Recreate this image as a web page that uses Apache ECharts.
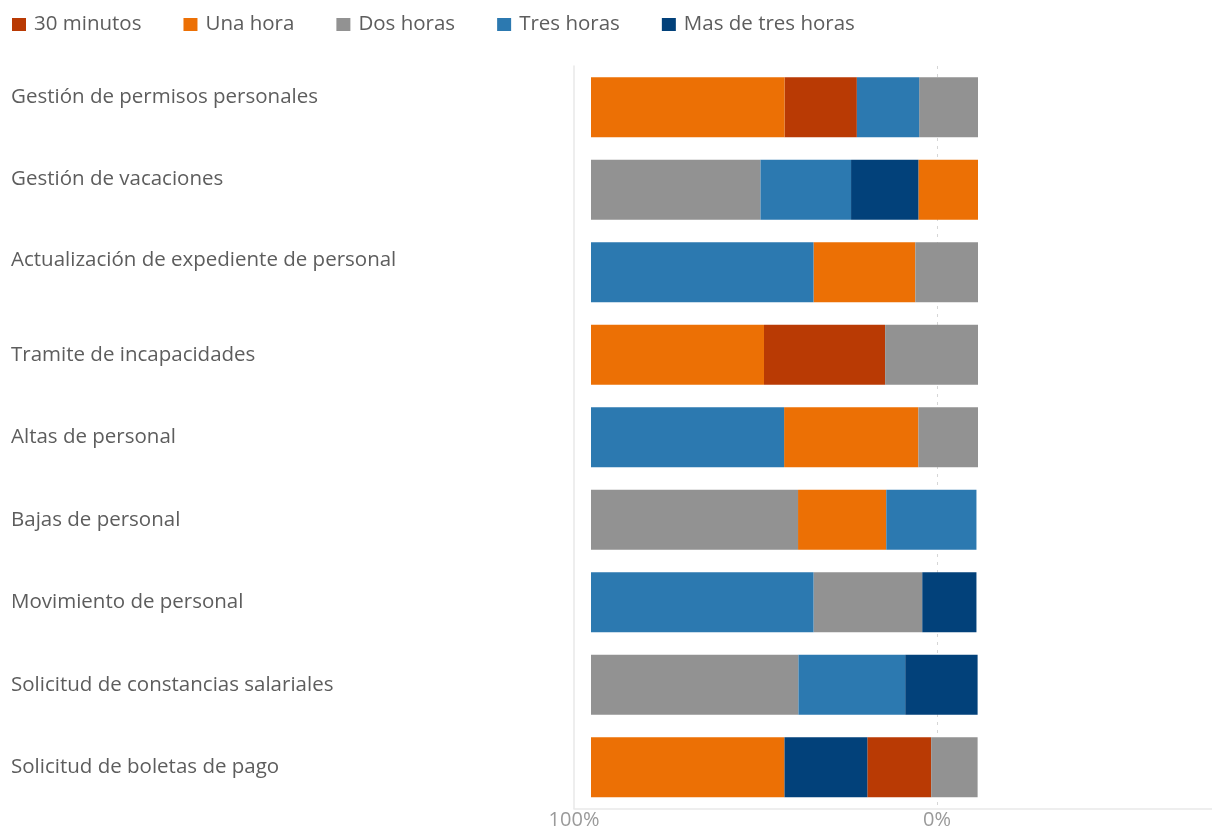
<!DOCTYPE html>
<html lang="es">
<head>
<meta charset="utf-8">
<title>Tiempo por trámite</title>
<script src="https://cdn.jsdelivr.net/npm/echarts@6/dist/echarts.min.js"></script>
<style>
  html, body { margin: 0; padding: 0; background: #ffffff; }
  #chart { width: 1212px; height: 827px; }
</style>
</head>
<body>
<div id="chart"></div>
<script>
// Trámites (top to bottom)
const categories = [
  'Gestión de permisos personales',
  'Gestión de vacaciones',
  'Actualización de expediente de personal',
  'Tramite de incapacidades',
  'Altas de personal',
  'Bajas de personal',
  'Movimiento de personal',
  'Solicitud de constancias salariales',
  'Solicitud de boletas de pago'
];

// Share of answers (%) per time band, one value per trámite
const treintaMinutos = [18.7, null, null, 31.3, null, null, null, null, 16.5];
const unaHora        = [50.0, 15.4, 26.3, 44.7, 34.7, 22.8, null, null, 50.0];
const dosHoras       = [15.2, 43.8, 16.2, 24.0, 15.4, 53.5, 28.1, 53.6, 12.0];
const tresHoras      = [16.1, 23.4, 57.5, null, 49.9, 23.3, 57.5, 27.6, null];
const masDeTres      = [null, 17.4, null, null, null, null, 14.0, 18.7, 21.4];

const seriesNames = ['30 minutos', 'Una hora', 'Dos horas', 'Tres horas', 'Mas de tres horas'];

// Left-to-right order of the bands inside each bar (indices into seriesNames)
const segmentOrder = [
  [1, 0, 3, 2],
  [2, 3, 4, 1],
  [3, 1, 2],
  [1, 0, 2],
  [3, 1, 2],
  [2, 1, 3],
  [3, 2, 4],
  [2, 3, 4],
  [1, 4, 0, 2]
];

// Axis tick labels
const axisTicks = [0, 100];

// ---- chart construction ----
const bandValues = [treintaMinutos, unaHora, dosHoras, tresHoras, masDeTres];
const bandColors = ['#B93A04', '#EC7005', '#929292', '#2C79B0', '#02417A'];

// start/end of each segment along the 100% axis, stacked from the 100% side
const segments = bandValues.map(() => []);
segmentOrder.forEach((order, row) => {
  let used = 0;
  order.forEach((s) => {
    const v = bandValues[s][row];
    if (v == null) return;
    segments[s].push([row, 100 - used, 100 - used - v]);
    used += v;
  });
});

const barRatio = 60 / 82.5;
function renderSegment(params, api) {
  const row = api.value(0);
  const a = api.coord([api.value(1), row]);
  const b = api.coord([api.value(2), row]);
  const h = api.size([0, 1])[1] * barRatio;
  return {
    type: 'rect',
    shape: {
      x: Math.min(a[0], b[0]),
      y: a[1] - h / 2,
      width: Math.abs(b[0] - a[0]),
      height: h
    },
    style: api.style()
  };
}

// first three labels sit slightly higher than their bars
const labelLift = [10, 11, 12, 0, 0, 0, 0, 0, 0];
const liftStyles = {};
labelLift.forEach((lift, i) => {
  if (lift) liftStyles['l' + i] = { padding: [0, 0, lift * 2, 0] };
});

const font = "'Open Sans', 'Noto Sans', sans-serif";
const textColor = '#5d5d5d';
const plotTop = 66;
const plotHeight = 742.5;
const gridBase = { top: plotTop, height: plotHeight, containLabel: false, outerBoundsMode: 'none' };

const option = {
  backgroundColor: '#ffffff',
  animation: false,
  legend: {
    left: 7,
    top: 9,
    itemWidth: 14,
    itemHeight: 13,
    itemGap: 42,
    icon: 'rect',
    data: seriesNames,
    textStyle: {
      fontFamily: font,
      fontSize: 20.5,
      color: textColor,
      padding: [0, 0, 0, 3]
    }
  },
  grid: [
    // bars
    Object.assign({ left: 591, width: 387 }, gridBase),
    // frame lines
    Object.assign({ left: 574, right: 0 }, gridBase),
    // percentage scale
    Object.assign({ left: 574, width: 363 }, gridBase)
  ],
  xAxis: [
    {
      gridIndex: 0, type: 'value', min: 0, max: 100, inverse: true,
      axisLine: { show: false }, axisTick: { show: false },
      axisLabel: { show: false }, splitLine: { show: false }
    },
    {
      gridIndex: 1, type: 'value', min: 0, max: 100,
      axisLine: { show: true, lineStyle: { color: '#e9e9e9', width: 1.5 } },
      axisTick: { show: false }, axisLabel: { show: false }, splitLine: { show: false }
    },
    {
      gridIndex: 2, type: 'value', min: axisTicks[0], max: axisTicks[1],
      interval: axisTicks[1] - axisTicks[0], inverse: true,
      axisLine: { show: false }, axisTick: { show: false },
      axisLabel: {
        formatter: '{value}%',
        fontFamily: font, fontSize: 20, color: '#9a9a9a', margin: 2
      },
      splitLine: {
        show: true, showMaxLine: false,
        lineStyle: { color: '#d6d6d6', type: [3, 5], width: 1 }
      }
    }
  ],
  yAxis: [
    {
      gridIndex: 0, type: 'category', inverse: true, data: categories,
      axisLine: { show: false }, axisTick: { show: false },
      axisLabel: {
        align: 'left', margin: 591 - 11,
        fontFamily: font, fontSize: 20.5, color: textColor,
        formatter: (value, index) => (labelLift[index] ? '{l' + index + '|' + value + '}' : value),
        rich: liftStyles
      }
    },
    {
      gridIndex: 1, type: 'value', min: 0, max: 1,
      axisLine: { show: true, lineStyle: { color: '#e9e9e9', width: 1.5 } },
      axisTick: { show: false }, axisLabel: { show: false }, splitLine: { show: false }
    },
    {
      gridIndex: 2, type: 'value', min: 0, max: 1, show: false
    }
  ],
  series: seriesNames.map((name, i) => ({
    name,
    type: 'custom',
    xAxisIndex: 0,
    yAxisIndex: 0,
    renderItem: renderSegment,
    encode: { x: [1, 2], y: 0 },
    itemStyle: { color: bandColors[i] },
    data: segments[i]
  }))
};

const chart = echarts.init(document.getElementById('chart'), null, { renderer: 'canvas' });
chart.setOption(option);
</script>
</body>
</html>
